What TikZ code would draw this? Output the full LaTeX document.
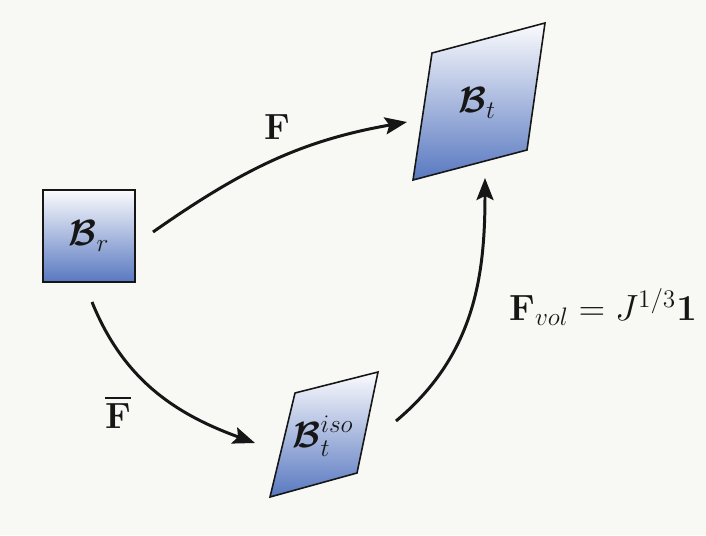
\documentclass[tikz,border=0pt]{standalone}
\usepackage{amsmath}
\usepackage{tikz}
\usetikzlibrary{arrows.meta, positioning, calc}
\definecolor{paper}{HTML}{F8F8F5}
\definecolor{bodytop}{HTML}{FBFBFD}
\definecolor{bodymid}{HTML}{BCCAE6}
\definecolor{bodybot}{HTML}{5878C0}
\definecolor{inkdark}{HTML}{161616}
\tikzset{
  body/.style={top color=bodytop, middle color=bodymid, bottom color=bodybot, draw=inkdark, line width=0.9pt},
  lbl/.style={font=\fontsize{22}{26}\selectfont, text=inkdark},
  maplbl/.style={font=\fontsize{22.5}{27}\selectfont, text=inkdark},
  map/.style={-{Stealth[length=4.4mm, width=3.4mm, inset=0.8mm]}, line width=1.7pt, color=inkdark},
}

\begin{document}
\begin{tikzpicture}[x=1cm, y=1cm]
  \useasboundingbox[fill=paper] (0,0) rectangle (14.12,10.70);
  % reference configuration
  \node[body, lbl, minimum size=1.84cm, inner sep=0pt] (Br) at (1.78,5.98) {$\boldsymbol{\mathcal{B}}_r$};
  % current configuration
  \shadedraw[body] (8.26,7.10) -- (10.54,7.70) -- (10.90,10.24) -- (8.64,9.64) -- cycle;
  \node[lbl] (Bt) at (9.54,8.64) {$\boldsymbol{\mathcal{B}}_t$};
  % isochoric intermediate
  \shadedraw[body] (5.40,0.76) -- (7.14,1.24) -- (7.56,3.26) -- (5.90,2.84) -- cycle;
  \node[lbl] (Biso) at (6.46,1.98) {$\boldsymbol{\mathcal{B}}_t^{iso}$};
  % arrow ends
  \coordinate (Fa) at (3.06,6.06);
  \coordinate (Fb) at (8.14,8.26);
  \coordinate (Ga) at (1.84,4.66);
  \coordinate (Gb) at (5.10,1.84);
  \coordinate (Ha) at (7.92,2.28);
  \coordinate (Hb) at (9.70,7.14);
  \draw[map] (Fa) to[out=35, in=190] (Fb);
  \draw[map] (Ga) to[out=-68, in=160] (Gb);
  \draw[map] (Ha) to[out=40, in=-90] (Hb);
  \node[maplbl] (labF) at (5.54,8.16) {$\mathbf{F}$};
  \node[maplbl] (labFbar) at (2.36,2.46) {$\overline{\mathbf{F}}$};
  \node[maplbl] (labFvol) at (12.06,4.56) {$\mathbf{F}_{vol} = J^{1/3}\mathbf{1}$};
\end{tikzpicture}
\end{document}
